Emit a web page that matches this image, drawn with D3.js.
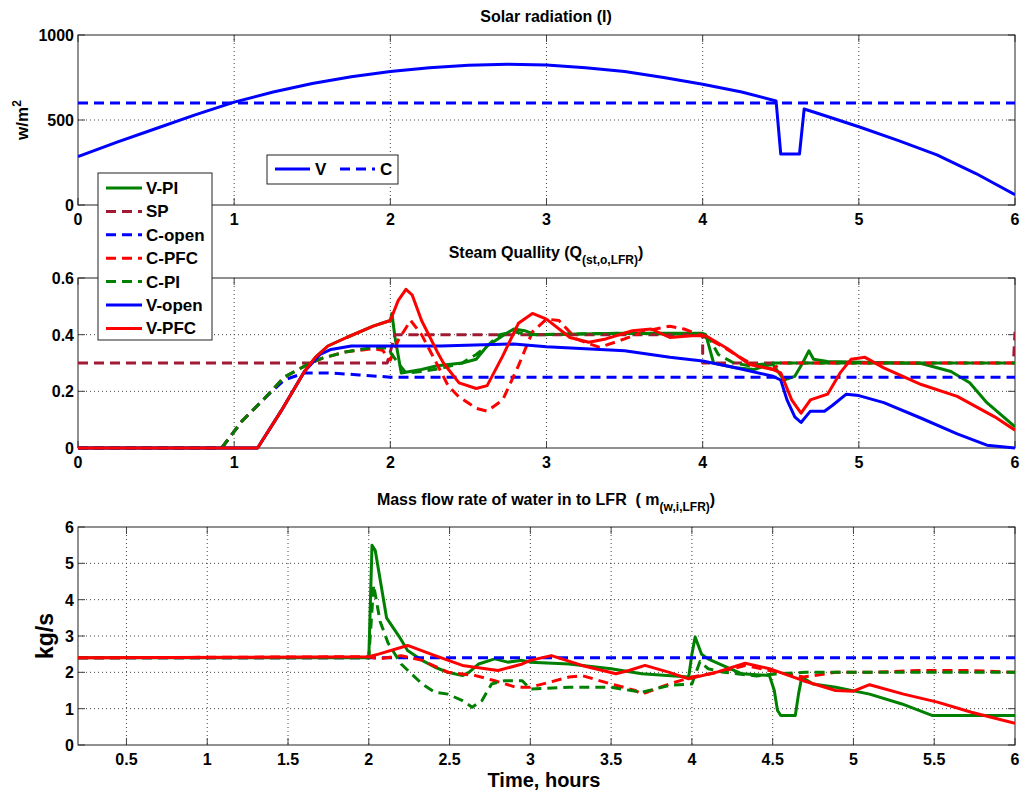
<!DOCTYPE html>
<html>
<head>
<meta charset="utf-8">
<script src="https://cdn.jsdelivr.net/npm/d3@7"></script>
<style>
  body { margin: 0; background: #fff; }
  text { font-family: "Liberation Sans", Arial, sans-serif; font-weight: bold; fill: #000; }
</style>
</head>
<body>
<div id="chart-area"></div>
<script>

// ---- data: [time (h), value] ----

// solar radiation
let solarV = [[0,285],[0.25,370],[0.5,450],[0.75,530],[1,605],[1.25,665],[1.5,715],[1.75,755],[2,785],[2.25,808],[2.5,822],[2.75,828],[3,823],[3.25,808],[3.5,785],[3.75,750],[4,710],[4.25,665],[4.47,612],[4.5,300],[4.62,300],[4.65,565],[4.75,535],[5,460],[5.25,380],[5.5,295],[5.75,185],[6,60]];
let solarC = [[0,600],[6,600]];

// steam quality
let qSP = [[0,0.3],[1.98,0.3],[2.03,0.4],[4.0,0.4],[4.0,0.3],[5.99,0.3],[6.0,0.41]];
let qCopen = [[0,0],[0.92,0],[1.05,0.095],[1.2,0.178],[1.32,0.24],[1.45,0.265],[1.6,0.265],[1.8,0.258],[2.0,0.25],[2.3,0.25],[6,0.25]];
let qCPI = [[0,0],[0.92,0],[1.05,0.095],[1.2,0.178],[1.32,0.25],[1.47,0.295],[1.57,0.318],[1.72,0.34],[1.89,0.355],[1.98,0.353],[2.05,0.3],[2.1,0.265],[2.2,0.27],[2.32,0.28],[2.46,0.3],[2.55,0.33],[2.62,0.36],[2.7,0.4],[2.79,0.41],[2.89,0.4],[3.5,0.405],[4.0,0.4],[4.05,0.38],[4.1,0.33],[4.2,0.3],[4.3,0.29],[4.45,0.3],[6,0.3]];
let qCPFC = [[0,0],[0.92,0],[1.05,0.095],[1.2,0.178],[1.32,0.25],[1.47,0.295],[1.57,0.318],[1.72,0.34],[1.89,0.35],[1.95,0.345],[2.0,0.31],[2.05,0.38],[2.13,0.45],[2.2,0.4],[2.3,0.295],[2.37,0.22],[2.44,0.18],[2.55,0.14],[2.62,0.13],[2.72,0.17],[2.82,0.29],[2.91,0.41],[3.0,0.455],[3.08,0.45],[3.19,0.385],[3.34,0.355],[3.5,0.385],[3.64,0.414],[3.79,0.43],[3.88,0.42],[4.0,0.396],[4.12,0.36],[4.28,0.307],[4.45,0.277],[4.5,0.3],[4.7,0.3],[6,0.3]];
let qVopen = [[0,0],[1.15,0],[1.3,0.13],[1.45,0.27],[1.55,0.33],[1.62,0.348],[1.75,0.36],[2.0,0.36],[2.32,0.36],[2.79,0.367],[3.0,0.357],[3.5,0.343],[3.79,0.32],[4.0,0.307],[4.21,0.283],[4.45,0.253],[4.5,0.24],[4.54,0.17],[4.59,0.11],[4.63,0.09],[4.69,0.13],[4.78,0.13],[4.83,0.15],[4.92,0.19],[5.0,0.185],[5.16,0.16],[5.4,0.105],[5.63,0.05],[5.82,0.01],[6,0]];
let qVPFC = [[0,0],[1.15,0],[1.3,0.13],[1.45,0.27],[1.52,0.32],[1.6,0.36],[1.72,0.39],[1.89,0.43],[2.0,0.45],[2.05,0.52],[2.1,0.56],[2.14,0.54],[2.2,0.45],[2.3,0.34],[2.34,0.3],[2.44,0.23],[2.55,0.21],[2.62,0.22],[2.72,0.325],[2.82,0.44],[2.91,0.475],[3.0,0.455],[3.15,0.39],[3.27,0.373],[3.38,0.385],[3.55,0.414],[3.67,0.42],[3.79,0.39],[3.93,0.396],[4.02,0.396],[4.16,0.35],[4.3,0.295],[4.45,0.277],[4.5,0.265],[4.57,0.17],[4.63,0.123],[4.69,0.17],[4.8,0.19],[4.88,0.265],[4.95,0.313],[5.04,0.32],[5.16,0.283],[5.4,0.224],[5.63,0.182],[5.87,0.11],[6,0.063]];
let qVPI = [[0,0],[1.15,0],[1.3,0.13],[1.45,0.27],[1.52,0.32],[1.6,0.36],[1.72,0.39],[1.89,0.43],[2.0,0.45],[2.01,0.475],[2.03,0.39],[2.07,0.265],[2.2,0.277],[2.3,0.29],[2.46,0.3],[2.55,0.313],[2.62,0.36],[2.72,0.396],[2.79,0.42],[2.86,0.414],[2.93,0.4],[3.5,0.405],[4.0,0.405],[4.02,0.4],[4.07,0.3],[4.21,0.283],[4.33,0.277],[4.4,0.29],[4.45,0.295],[4.52,0.24],[4.59,0.253],[4.64,0.3],[4.68,0.343],[4.71,0.313],[4.8,0.305],[5.4,0.298],[5.59,0.27],[5.71,0.23],[5.82,0.16],[6,0.075]];

// mass flow rate
let mCopen = [[0.2,2.4],[6,2.4]];
let mVPFC = [[0.2,2.4],[2.0,2.43],[2.06,2.5],[2.24,2.74],[2.41,2.46],[2.58,2.19],[2.8,2.05],[2.95,2.23],[3.0,2.33],[3.13,2.46],[3.32,2.19],[3.53,1.96],[3.61,2.05],[3.71,2.19],[3.86,2.0],[3.98,1.82],[4.15,2.0],[4.33,2.25],[4.48,2.1],[4.69,1.77],[4.89,1.5],[5.0,1.48],[5.1,1.66],[5.31,1.4],[5.52,1.18],[5.73,0.9],[6.0,0.6]];
let mVPI = [[0.2,2.4],[2.0,2.4],[2.02,5.5],[2.04,5.35],[2.11,3.5],[2.19,2.97],[2.24,2.6],[2.33,2.33],[2.41,2.14],[2.49,2.0],[2.58,1.91],[2.62,2.0],[2.68,2.23],[2.78,2.37],[2.86,2.28],[2.95,2.33],[3.0,2.28],[3.24,2.23],[3.5,2.1],[3.69,1.96],[3.98,1.87],[4.0,2.5],[4.02,2.97],[4.06,2.5],[4.1,2.37],[4.19,2.19],[4.31,1.96],[4.48,1.91],[4.51,1.5],[4.53,0.95],[4.55,0.81],[4.64,0.81],[4.66,1.4],[4.68,1.87],[4.75,1.68],[4.89,1.59],[5.1,1.4],[5.3,1.13],[5.49,0.81],[6.0,0.81]];
let mCPI = [[0.2,2.4],[2.0,2.4],[2.03,4.4],[2.07,3.4],[2.12,2.8],[2.2,2.23],[2.33,1.68],[2.41,1.45],[2.49,1.4],[2.58,1.22],[2.64,1.04],[2.7,1.22],[2.76,1.68],[2.84,1.77],[2.95,1.77],[3.0,1.54],[3.24,1.59],[3.5,1.59],[3.69,1.45],[3.86,1.64],[4.0,1.68],[4.05,2.3],[4.1,2.1],[4.2,2.0],[4.4,1.9],[4.5,1.95],[4.7,2.0],[5.0,2.0],[6.0,2.0]];
let mCPFC = [[0.2,2.4],[2.0,2.43],[2.06,2.37],[2.2,2.46],[2.33,2.33],[2.49,2.0],[2.66,1.91],[2.78,1.77],[2.91,1.59],[3.0,1.59],[3.24,1.87],[3.32,1.91],[3.5,1.68],[3.65,1.5],[3.69,1.4],[3.86,1.68],[4.0,1.87],[4.17,2.0],[4.33,2.19],[4.48,2.05],[4.69,1.87],[4.89,2.0],[5.1,2.0],[5.41,2.05],[5.72,2.05],[6.0,2.0]];

// ticks
let xTicksTop = [0, 1, 2, 3, 4, 5, 6];
let xTicksBottom = [0.5, 1, 1.5, 2, 2.5, 3, 3.5, 4, 4.5, 5, 5.5, 6];
let yTicksSolar = [0, 500, 1000];
let yTicksQuality = [0, 0.2, 0.4, 0.6];
let yTicksFlow = [0, 1, 2, 3, 4, 5, 6];

// legends
let legendLabels = ["V-PI", "SP", "C-open", "C-PFC", "C-PI", "V-open", "V-PFC"];
let solarLabels = ["V", "C"];

// colours / dashes
let green = "#008000", maroon = "#a01a33", blue = "#0000ff", red = "#ff0000";
let dash = "10,6";

let width = 1020, height = 791;

let svg = d3.select("#chart-area").append("svg")
	.attr("width", width)
	.attr("height", height)
	.style("display", "block");

let left = 78, right = 1015;

function panel(id, top, bottom, xDomain, yDomain, xTicks, yTicks, yFmt) {
	let x = d3.scaleLinear().domain(xDomain).range([left, right]);
	let y = d3.scaleLinear().domain(yDomain).range([bottom, top]);

	svg.append("clipPath").attr("id", "clip-" + id)
		.append("rect")
		.attr("x", left).attr("y", top - 2)
		.attr("width", right - left).attr("height", bottom - top + 4);

	let g = svg.append("g");

	// grid (dotted)
	g.selectAll(".gx").data(xTicks.filter(d => d > xDomain[0] && d < xDomain[1])).enter()
		.append("line")
		.attr("x1", d => x(d)).attr("x2", d => x(d))
		.attr("y1", top).attr("y2", bottom)
		.attr("stroke", "#444").attr("stroke-dasharray", "1,3");
	g.selectAll(".gy").data(yTicks.filter(d => d > yDomain[0] && d < yDomain[1])).enter()
		.append("line")
		.attr("x1", left).attr("x2", right)
		.attr("y1", d => y(d)).attr("y2", d => y(d))
		.attr("stroke", "#444").attr("stroke-dasharray", "1,3");

	// inner ticks on all 4 sides
	let tl = 7;
	xTicks.forEach(d => {
		g.append("line").attr("x1", x(d)).attr("x2", x(d)).attr("y1", bottom).attr("y2", bottom - tl).attr("stroke", "#444");
		g.append("line").attr("x1", x(d)).attr("x2", x(d)).attr("y1", top).attr("y2", top + tl).attr("stroke", "#444");
	});
	yTicks.forEach(d => {
		g.append("line").attr("x1", left).attr("x2", left + tl).attr("y1", y(d)).attr("y2", y(d)).attr("stroke", "#444");
		g.append("line").attr("x1", right).attr("x2", right - tl).attr("y1", y(d)).attr("y2", y(d)).attr("stroke", "#444");
	});

	// box
	g.append("rect")
		.attr("x", left).attr("y", top)
		.attr("width", right - left).attr("height", bottom - top)
		.attr("fill", "none").attr("stroke", "#222").attr("stroke-width", 1);

	// tick labels
	g.selectAll(".xl").data(xTicks).enter().append("text")
		.attr("x", d => x(d)).attr("y", bottom + 20)
		.attr("text-anchor", "middle")
		.style("font-size", "16px")
		.text(d => d);
	g.selectAll(".yl").data(yTicks).enter().append("text")
		.attr("x", left - 4).attr("y", d => y(d) + 6)
		.attr("text-anchor", "end")
		.style("font-size", "16px")
		.text(yFmt);

	let lines = svg.append("g").attr("clip-path", "url(#clip-" + id + ")");
	return {x, y, lines};
}

function draw(p, data, color, dashed) {
	let line = d3.line().x(d => p.x(d[0])).y(d => p.y(d[1]));
	p.lines.append("path")
		.datum(data)
		.attr("d", line)
		.attr("fill", "none")
		.attr("stroke", color)
		.attr("stroke-width", 3)
		.attr("stroke-linejoin", "round")
		.attr("stroke-dasharray", dashed ? dash : null);
}

// ---- top: solar radiation ----
let p1 = panel("solar", 35, 205, [0, 6], [0, 1000], xTicksTop, yTicksSolar, d => d);
draw(p1, solarV, blue, false);
draw(p1, solarC, blue, true);

svg.append("text").attr("x", 546).attr("y", 22).attr("text-anchor", "middle")
	.style("font-size", "16px").text("Solar radiation (I)");
let yl1 = svg.append("text").attr("transform", "translate(28,120) rotate(-90)")
	.attr("text-anchor", "middle").style("font-size", "17px");
yl1.append("tspan").text("w/m");
yl1.append("tspan").attr("baseline-shift", "super").style("font-size", "12px").text("2");

// ---- middle: steam quality ----
let p2 = panel("quality", 278, 448, [0, 6], [0, 0.6], xTicksTop, yTicksQuality, d => d);
draw(p2, qVPI, green, false);
draw(p2, qSP, maroon, true);
draw(p2, qCopen, blue, true);
draw(p2, qCPFC, red, true);
draw(p2, qCPI, green, true);
draw(p2, qVopen, blue, false);
draw(p2, qVPFC, red, false);

let t2 = svg.append("text").attr("x", 546).attr("y", 258).attr("text-anchor", "middle")
	.style("font-size", "16px");
t2.append("tspan").text("Steam Quallity (Q");
t2.append("tspan").attr("dy", 6).style("font-size", "12px").text("(st,o,LFR)");
t2.append("tspan").attr("dy", -6).text(")");

// ---- bottom: mass flow rate ----
let p3 = panel("flow", 527, 745, [0.2, 6], [0, 6], xTicksBottom, yTicksFlow, d => d);
draw(p3, mVPI, green, false);
draw(p3, mCopen, blue, true);
draw(p3, mCPFC, red, true);
draw(p3, mCPI, green, true);
draw(p3, mVPFC, red, false);

let t3 = svg.append("text").attr("x", 546).attr("y", 505).attr("text-anchor", "middle")
	.style("font-size", "16px").style("white-space", "pre");
t3.append("tspan").text("Mass flow rate of water in to LFR  ( m");
t3.append("tspan").attr("dy", 6).style("font-size", "12px").text("(w,i,LFR)");
t3.append("tspan").attr("dy", -6).text(")");

svg.append("text").attr("transform", "translate(53,636) rotate(-90)")
	.attr("text-anchor", "middle").style("font-size", "23px").text("kg/s");
svg.append("text").attr("x", 544).attr("y", 787).attr("text-anchor", "middle")
	.style("font-size", "20px").text("Time, hours");

// ---- legends ----
let lg1 = svg.append("g");
lg1.append("rect").attr("x", 267).attr("y", 155).attr("width", 131).attr("height", 29)
	.attr("fill", "#fff").attr("stroke", "#222");
solarLabels.forEach((lab, i) => {
	let x0 = 275 + i * 65;
	lg1.append("line").attr("x1", x0).attr("x2", x0 + 35).attr("y1", 169).attr("y2", 169)
		.attr("stroke", blue).attr("stroke-width", 3)
		.attr("stroke-dasharray", i === 1 ? dash : null);
	lg1.append("text").attr("x", x0 + 40).attr("y", 175).style("font-size", "17px").text(lab);
});

let legendColors = [green, maroon, blue, red, green, blue, red];
let legendDashed = [false, true, true, true, true, false, false];
let lg2 = svg.append("g");
lg2.append("rect").attr("x", 98).attr("y", 173).attr("width", 114).attr("height", 167)
	.attr("fill", "#fff").attr("stroke", "#222");
legendLabels.forEach((lab, i) => {
	let yy = 188 + i * 23.4;
	lg2.append("line").attr("x1", 106).attr("x2", 142).attr("y1", yy).attr("y2", yy)
		.attr("stroke", legendColors[i]).attr("stroke-width", 3)
		.attr("stroke-dasharray", legendDashed[i] ? dash : null);
	lg2.append("text").attr("x", 146).attr("y", yy + 6).style("font-size", "17px").text(lab);
});

</script>
</body>
</html>
